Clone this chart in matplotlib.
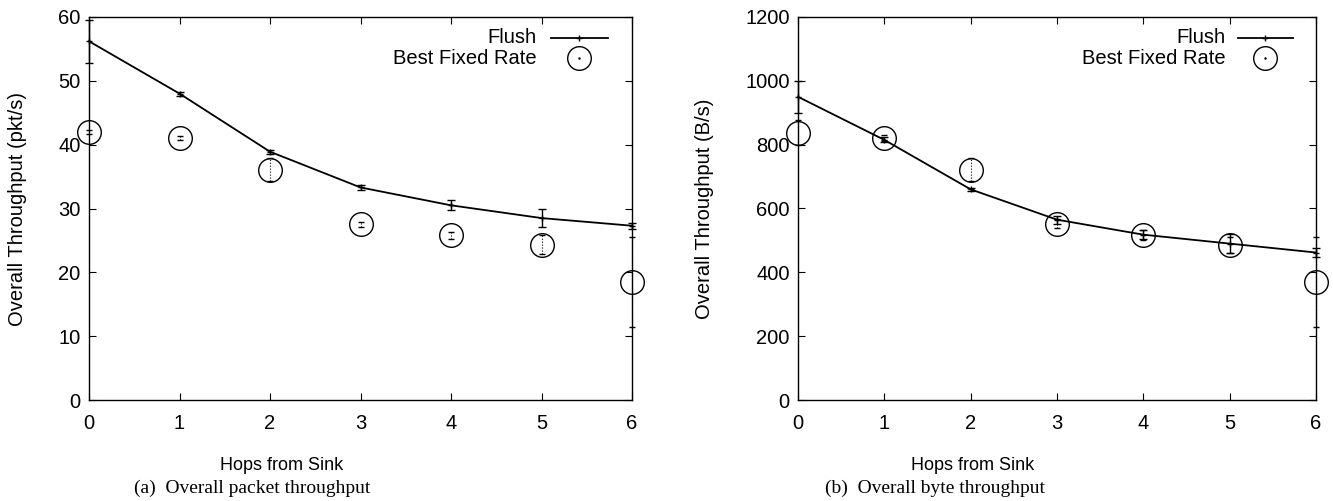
import matplotlib
matplotlib.use("Agg")
import matplotlib.pyplot as plt
from matplotlib.lines import Line2D

plt.rcParams['font.family'] = ['Liberation Sans', 'DejaVu Sans']

hops = [0, 1, 2, 3, 4, 5, 6]

# (a) packet throughput (pkt/s)
flush_pkt = [56.2, 48.0, 38.9, 33.3, 30.5, 28.5, 27.3]
flush_pkt_err = [3.4, 0.3, 0.3, 0.4, 0.8, 1.4, 0.5]
best_pkt = [42.0, 41.0, 36.1, 27.5, 25.8, 24.3, 18.5]
best_pkt_err = [0.3, 0.3, 1.8, 0.4, 0.5, 1.5, 7.0]

# (b) byte throughput (B/s)
flush_byte = [950, 815, 660, 565, 518, 490, 462]
flush_byte_err = [50, 8, 5, 12, 15, 30, 15]
best_byte = [838, 820, 722, 553, 517, 487, 370]
best_byte_err = [40, 10, 35, 15, 15, 25, 140]

W, H = 1333, 501
fig = plt.figure(figsize=(W / 100, H / 100), dpi=100)

def axrect(x0, x1, y0, y1):
    return [x0 / W, 1 - y1 / H, (x1 - x0) / W, (y1 - y0) / H]

ax1 = fig.add_axes(axrect(89, 632, 17, 400))
ax2 = fig.add_axes(axrect(798, 1316, 17, 400))

FS = 14.5

def draw(ax, flush, flush_err, best, best_err, ymax, ystep):
    ax.errorbar(hops, flush, yerr=flush_err, color='black', lw=1.3,
                marker='+', markersize=5, capsize=3, elinewidth=1.0,
                capthick=1.0, clip_on=False, zorder=3)
    _, caps, bars = ax.errorbar(hops, best, yerr=best_err, color='black',
                                linestyle='none', marker='o', markersize=17,
                                fillstyle='none', markeredgewidth=1.0,
                                capsize=2, elinewidth=0.8, capthick=0.8,
                                clip_on=False, zorder=3)
    for b in bars:
        b.set_linestyle(':')
    ax.set_xlim(0, 6)
    ax.set_ylim(0, ymax)
    ax.set_xticks(hops)
    ax.set_yticks(list(range(0, ymax + 1, ystep)))
    ax.tick_params(direction='in', top=True, right=True, length=5,
                   width=0.8, labelsize=FS, pad=6)
    ax.tick_params(axis='x', pad=10)
    for s in ax.spines.values():
        s.set_linewidth(1.0)
    # legend (gnuplot style: right-aligned text, sample on right)
    tr = ax.transAxes
    ax.text(0.825, 0.946, 'Flush', transform=tr, ha='right', va='center',
            fontsize=FS)
    ax.add_line(Line2D([0.85, 0.955], [0.946, 0.946], transform=tr,
                       color='black', lw=1.3))
    ax.add_line(Line2D([0.9025], [0.946], transform=tr, color='black',
                       marker='+', markersize=5))
    ax.text(0.825, 0.892, 'Best Fixed Rate', transform=tr, ha='right',
            va='center', fontsize=FS)
    ax.add_line(Line2D([0.9025], [0.892], transform=tr, color='black',
                       marker='o', markersize=17, fillstyle='none',
                       markeredgewidth=1.0))
    ax.add_line(Line2D([0.9025], [0.892], transform=tr, color='black',
                       marker='.', markersize=1.5))

draw(ax1, flush_pkt, flush_pkt_err, best_pkt, best_pkt_err, 60, 10)
draw(ax2, flush_byte, flush_byte_err, best_byte, best_byte_err, 1200, 200)

fig.text(18 / W, 1 - 209 / H, 'Overall Throughput (pkt/s)', rotation=90,
         ha='center', va='center', fontsize=FS)
fig.text(705 / W, 1 - 209 / H, 'Overall Throughput (B/s)', rotation=90,
         ha='center', va='center', fontsize=FS)
fig.text(282 / W, 1 - 465 / H, 'Hops from Sink', ha='center', va='center',
         fontsize=13)
fig.text(973 / W, 1 - 465 / H, 'Hops from Sink', ha='center', va='center',
         fontsize=13)
fig.text(252 / W, 1 - 488 / H, '(a)  Overall packet throughput',
         ha='center', va='center', fontsize=14, family='Liberation Serif')
fig.text(935 / W, 1 - 488 / H, '(b)  Overall byte throughput',
         ha='center', va='center', fontsize=14, family='Liberation Serif')

fig.savefig('out.png', dpi=100)
